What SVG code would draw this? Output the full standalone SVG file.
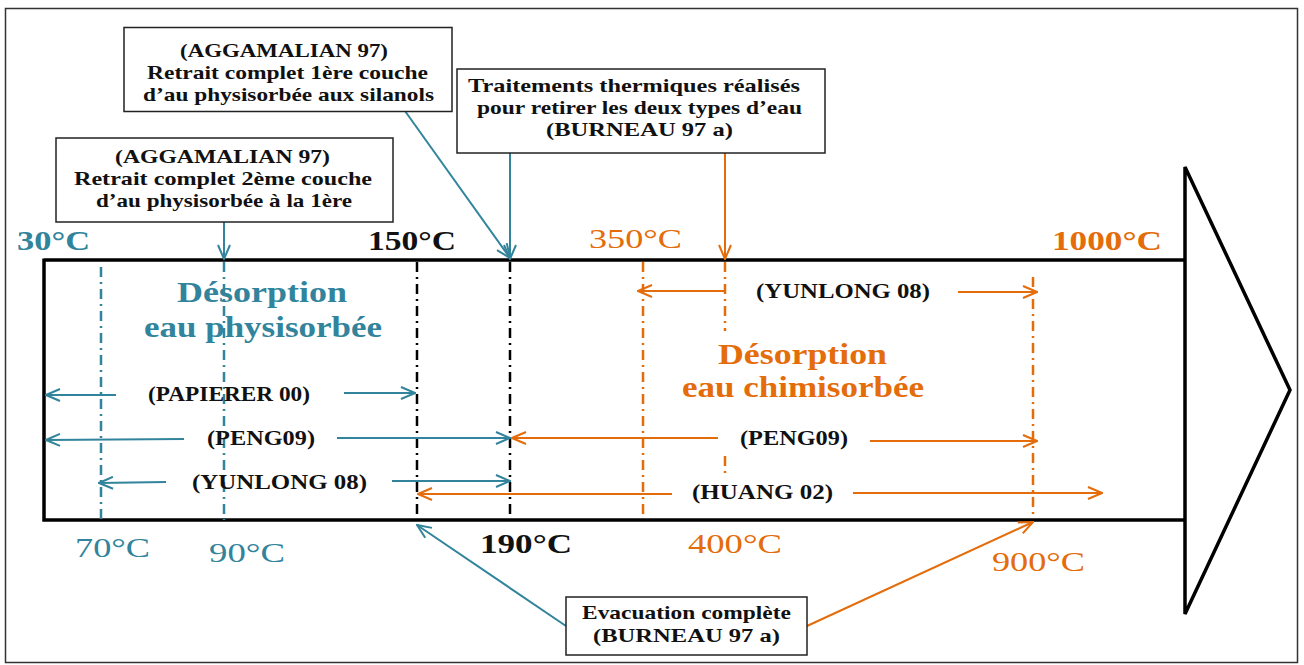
<svg xmlns="http://www.w3.org/2000/svg" width="1304" height="665" viewBox="0 0 1304 665">
<style>
.t{font-family:"Liberation Serif","Times New Roman",serif;font-weight:bold;}
.n{font-family:"Liberation Serif","Times New Roman",serif;font-weight:normal;}
.box{fill:#fff;stroke:#222;stroke-width:1.5;}
.teal{fill:#31849B;}
.or{fill:#E46C0A;}
.blk{fill:#111;}
.lt{stroke:#31849B;stroke-width:2;fill:none;}
.lo{stroke:#E46C0A;stroke-width:2;fill:none;}
.vt{stroke:#31849B;stroke-width:2.5;stroke-dasharray:10 5 2 5;fill:none;}
.vo{stroke:#E46C0A;stroke-width:2.5;stroke-dasharray:10 5 2 5;fill:none;}
.vb{stroke:#000;stroke-width:2.5;stroke-dasharray:10 5 2 5;fill:none;}
</style>
<defs>
<marker id="at" viewBox="0 0 16 14" refX="15" refY="7" markerWidth="16" markerHeight="14" markerUnits="userSpaceOnUse" orient="auto">
<path d="M1,1 L15,7 L1,13" fill="none" stroke="#31849B" stroke-width="2"/>
</marker>
<marker id="ao" viewBox="0 0 16 14" refX="15" refY="7" markerWidth="16" markerHeight="14" markerUnits="userSpaceOnUse" orient="auto">
<path d="M1,1 L15,7 L1,13" fill="none" stroke="#E46C0A" stroke-width="2"/>
</marker>
</defs>
<rect x="0" y="0" width="1304" height="665" fill="#fff"/>
<rect x="5.5" y="8.5" width="1292" height="654" fill="none" stroke="#333" stroke-width="1.5"/>

<g id="timeline-arrow" fill="none" stroke="#000" stroke-width="3.5" stroke-linejoin="miter">
<path d="M44,260 H1185 M44,520 H1185 M44,258.5 V521.7"/>
<path d="M1185,167 L1290,390 L1185,614 Z"/>
</g>

<g id="markers-vertical">
<line class="vt" x1="101" y1="267" x2="101" y2="520"/>
<line class="vt" x1="224" y1="262" x2="224" y2="520"/>
<line class="vb" x1="417" y1="262" x2="417" y2="518"/>
<line class="vb" x1="510" y1="262" x2="510" y2="518"/>
<line class="vo" x1="643" y1="262" x2="643" y2="518"/>
<line class="vo" x1="725" y1="262" x2="725" y2="331"/>
<line class="vo" x1="725" y1="456" x2="725" y2="478"/>
<line class="vo" x1="1033" y1="277" x2="1033" y2="518"/>
</g>

<g id="connectors">
<line class="lt" x1="224" y1="222" x2="224" y2="259" marker-end="url(#at)"/>
<line class="lt" x1="405" y1="111" x2="510" y2="258" marker-end="url(#at)"/>
<line class="lt" x1="510" y1="153" x2="510" y2="259" marker-end="url(#at)"/>
<line class="lo" x1="725" y1="153" x2="725" y2="259" marker-end="url(#ao)"/>
<line class="lt" x1="566" y1="626" x2="417" y2="525" marker-end="url(#at)"/>
<line class="lo" x1="807" y1="626" x2="1033" y2="522" marker-end="url(#ao)"/>
<line class="lo" x1="725" y1="291" x2="638" y2="291" marker-end="url(#ao)"/>
<line class="lo" x1="958" y1="292" x2="1037" y2="292" marker-end="url(#ao)"/>
<line class="lt" x1="116" y1="395" x2="46" y2="395" marker-end="url(#at)"/>
<line class="lt" x1="344" y1="393" x2="415" y2="393" marker-end="url(#at)"/>
<line class="lt" x1="184" y1="439" x2="46" y2="440" marker-end="url(#at)"/>
<line class="lt" x1="337" y1="438" x2="510" y2="438" marker-end="url(#at)"/>
<line class="lt" x1="166" y1="482" x2="99" y2="483" marker-end="url(#at)"/>
<line class="lt" x1="392" y1="481" x2="510" y2="481" marker-end="url(#at)"/>
<line class="lo" x1="718" y1="438" x2="512" y2="438" marker-end="url(#ao)"/>
<line class="lo" x1="870" y1="441" x2="1037" y2="441" marker-end="url(#ao)"/>
<line class="lo" x1="672" y1="494" x2="418" y2="494" marker-end="url(#ao)"/>
<line class="lo" x1="853" y1="493" x2="1102" y2="493" marker-end="url(#ao)"/>
</g>

<g id="box1">
<rect class="box" x="124" y="27.5" width="328" height="84"/>
<text class="t blk" font-size="19" x="180" y="57" textLength="208" lengthAdjust="spacingAndGlyphs">(AGGAMALIAN 97)</text>
<text class="t blk" font-size="19" x="147" y="79" textLength="281" lengthAdjust="spacingAndGlyphs">Retrait complet 1ère couche</text>
<text class="t blk" font-size="19" x="143" y="101" textLength="291" lengthAdjust="spacingAndGlyphs">d’au physisorbée aux silanols</text>
</g>
<g id="box2">
<rect class="box" x="56" y="138" width="337" height="84"/>
<text class="t blk" font-size="19" x="115" y="163" textLength="215" lengthAdjust="spacingAndGlyphs">(AGGAMALIAN 97)</text>
<text class="t blk" font-size="19" x="74" y="185" textLength="298" lengthAdjust="spacingAndGlyphs">Retrait complet 2ème couche</text>
<text class="t blk" font-size="19" x="96" y="207" textLength="256" lengthAdjust="spacingAndGlyphs">d’au physisorbée à la 1ère</text>
</g>
<g id="box3">
<rect class="box" x="457" y="69" width="368" height="84"/>
<text class="t blk" font-size="19" x="468" y="92" textLength="332" lengthAdjust="spacingAndGlyphs">Traitements thermiques réalisés</text>
<text class="t blk" font-size="19" x="477" y="114" textLength="325" lengthAdjust="spacingAndGlyphs">pour retirer les deux types d’eau</text>
<text class="t blk" font-size="19" x="546" y="136" textLength="187" lengthAdjust="spacingAndGlyphs">(BURNEAU 97 a)</text>
</g>
<g id="box4">
<rect class="box" x="566" y="597" width="241" height="58"/>
<text class="t blk" font-size="19" x="582" y="619" textLength="209" lengthAdjust="spacingAndGlyphs">Evacuation complète</text>
<text class="t blk" font-size="19" x="593" y="642" textLength="187" lengthAdjust="spacingAndGlyphs">(BURNEAU 97 a)</text>
</g>

<g id="temperatures">
<text class="t teal" font-size="28" x="17" y="250" textLength="73" lengthAdjust="spacingAndGlyphs">30°C</text>
<text class="t blk" font-size="28" x="368" y="250" textLength="88" lengthAdjust="spacingAndGlyphs">150°C</text>
<text class="n or" font-size="28" x="589" y="248" textLength="93" lengthAdjust="spacingAndGlyphs">350°C</text>
<text class="t or" font-size="28" x="1052" y="250" textLength="110" lengthAdjust="spacingAndGlyphs">1000°C</text>
<text class="n teal" font-size="28" x="75" y="557" textLength="75" lengthAdjust="spacingAndGlyphs">70°C</text>
<text class="n teal" font-size="28" x="209" y="562" textLength="76" lengthAdjust="spacingAndGlyphs">90°C</text>
<text class="t blk" font-size="28" x="480" y="553" textLength="92" lengthAdjust="spacingAndGlyphs">190°C</text>
<text class="n or" font-size="28" x="688" y="553" textLength="94" lengthAdjust="spacingAndGlyphs">400°C</text>
<text class="n or" font-size="28" x="992" y="571" textLength="93" lengthAdjust="spacingAndGlyphs">900°C</text>
</g>

<g id="zone-physisorbee">
<text class="t teal" font-size="29" x="177" y="302" textLength="170" lengthAdjust="spacingAndGlyphs">Désorption</text>
<text class="t teal" font-size="29" x="144" y="337" textLength="238" lengthAdjust="spacingAndGlyphs">eau physisorbée</text>
</g>
<g id="zone-chimisorbee">
<text class="t or" font-size="29" x="718" y="364" textLength="169" lengthAdjust="spacingAndGlyphs">Désorption</text>
<text class="t or" font-size="29" x="682" y="397" textLength="242" lengthAdjust="spacingAndGlyphs">eau chimisorbée</text>
</g>

<g id="references">
<text class="t blk" font-size="21" x="756" y="298" textLength="174" lengthAdjust="spacingAndGlyphs">(YUNLONG 08)</text>
<text class="t blk" font-size="21" x="148" y="401" textLength="162" lengthAdjust="spacingAndGlyphs">(PAPIERER 00)</text>
<text class="t blk" font-size="21" x="207" y="445" textLength="108" lengthAdjust="spacingAndGlyphs">(PENG09)</text>
<text class="t blk" font-size="21" x="192" y="489" textLength="175" lengthAdjust="spacingAndGlyphs">(YUNLONG 08)</text>
<text class="t blk" font-size="21" x="740" y="445" textLength="108" lengthAdjust="spacingAndGlyphs">(PENG09)</text>
<text class="t blk" font-size="21" x="692" y="499" textLength="141" lengthAdjust="spacingAndGlyphs">(HUANG 02)</text>
</g>
</svg>
